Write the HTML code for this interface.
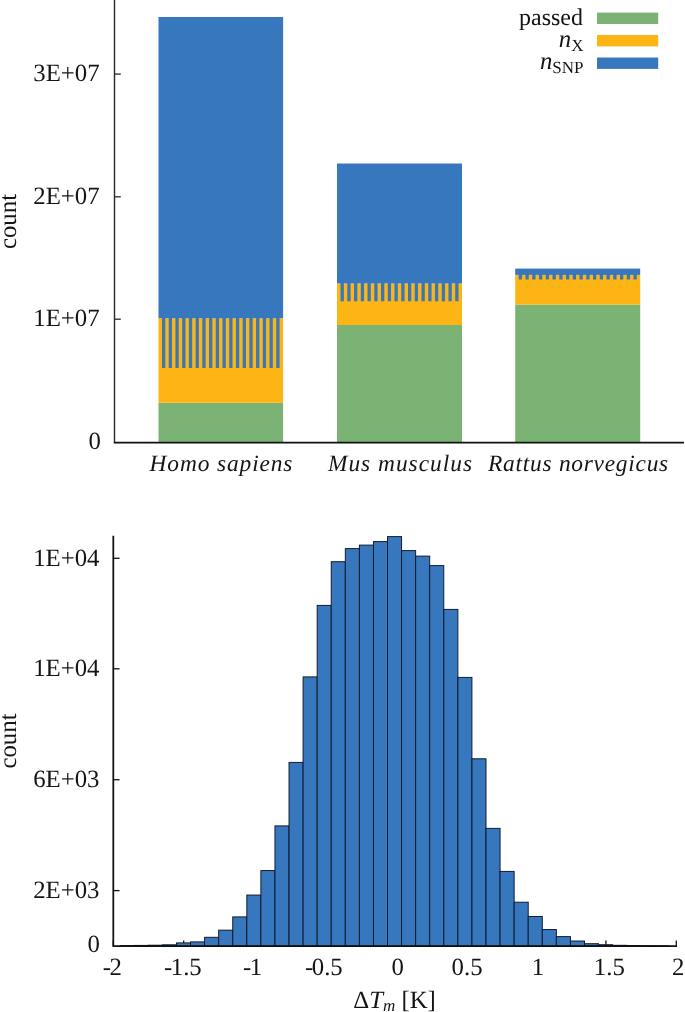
<!DOCTYPE html>
<html><head><meta charset="utf-8"><title>figure</title>
<style>
html,body{margin:0;padding:0;background:#fff;}
body{width:685px;height:1012px;overflow:hidden;}
svg{display:block;}
text{font-family:"Liberation Serif","Times New Roman",Times,serif;fill:#161314;text-rendering:geometricPrecision;}
.t{font-size:24.8px;}
.s{font-size:24px;}
.i{font-style:italic;}
</style></head><body>
<svg width="685" height="1012" viewBox="0 0 685 1012">
<rect width="685" height="1012" fill="#fff"/>

<g id="bars">
<rect x="158.5" y="402.8" width="124.6" height="39.90" fill="#7AB373"/>
<rect x="158.5" y="318.2" width="124.6" height="84.60" fill="#FDB515"/>
<rect x="158.5" y="17.0" width="124.6" height="301.20" fill="#3777BE"/>
<path d="M162.00 316.70h3.3V367.9h-3.3zM168.72 316.70h3.3V367.9h-3.3zM175.44 316.70h3.3V367.9h-3.3zM182.16 316.70h3.3V367.9h-3.3zM188.88 316.70h3.3V367.9h-3.3zM195.60 316.70h3.3V367.9h-3.3zM202.32 316.70h3.3V367.9h-3.3zM209.04 316.70h3.3V367.9h-3.3zM215.76 316.70h3.3V367.9h-3.3zM222.48 316.70h3.3V367.9h-3.3zM229.20 316.70h3.3V367.9h-3.3zM235.92 316.70h3.3V367.9h-3.3zM242.64 316.70h3.3V367.9h-3.3zM249.36 316.70h3.3V367.9h-3.3zM256.08 316.70h3.3V367.9h-3.3zM262.80 316.70h3.3V367.9h-3.3zM269.52 316.70h3.3V367.9h-3.3zM276.24 316.70h3.3V367.9h-3.3z" fill="#3777BE"/>
<rect x="337.0" y="325.0" width="125.0" height="117.70" fill="#7AB373"/>
<rect x="337.0" y="283.4" width="125.0" height="41.60" fill="#FDB515"/>
<rect x="337.0" y="163.5" width="125.0" height="119.90" fill="#3777BE"/>
<path d="M340.55 281.90h3.3V301.2h-3.3zM347.30 281.90h3.3V301.2h-3.3zM354.04 281.90h3.3V301.2h-3.3zM360.79 281.90h3.3V301.2h-3.3zM367.53 281.90h3.3V301.2h-3.3zM374.28 281.90h3.3V301.2h-3.3zM381.02 281.90h3.3V301.2h-3.3zM387.76 281.90h3.3V301.2h-3.3zM394.51 281.90h3.3V301.2h-3.3zM401.25 281.90h3.3V301.2h-3.3zM408.00 281.90h3.3V301.2h-3.3zM414.75 281.90h3.3V301.2h-3.3zM421.49 281.90h3.3V301.2h-3.3zM428.24 281.90h3.3V301.2h-3.3zM434.98 281.90h3.3V301.2h-3.3zM441.73 281.90h3.3V301.2h-3.3zM448.47 281.90h3.3V301.2h-3.3zM455.22 281.90h3.3V301.2h-3.3z" fill="#3777BE"/>
<rect x="515.2" y="304.6" width="125.0" height="138.10" fill="#7AB373"/>
<rect x="515.2" y="274.9" width="125.0" height="29.70" fill="#FDB515"/>
<rect x="515.2" y="268.6" width="125.0" height="6.30" fill="#3777BE"/>
<path d="M518.75 273.40h3.3V279.4h-3.3zM525.50 273.40h3.3V279.4h-3.3zM532.25 273.40h3.3V279.4h-3.3zM539.00 273.40h3.3V279.4h-3.3zM545.75 273.40h3.3V279.4h-3.3zM552.50 273.40h3.3V279.4h-3.3zM559.25 273.40h3.3V279.4h-3.3zM566.00 273.40h3.3V279.4h-3.3zM572.75 273.40h3.3V279.4h-3.3zM579.50 273.40h3.3V279.4h-3.3zM586.25 273.40h3.3V279.4h-3.3zM593.00 273.40h3.3V279.4h-3.3zM599.75 273.40h3.3V279.4h-3.3zM606.50 273.40h3.3V279.4h-3.3zM613.25 273.40h3.3V279.4h-3.3zM620.00 273.40h3.3V279.4h-3.3zM626.75 273.40h3.3V279.4h-3.3zM633.50 273.40h3.3V279.4h-3.3z" fill="#3777BE"/>
</g>
<path d="M114.5 0V442.7" fill="none" stroke="#2b2728" stroke-width="1.4"/>
<path d="M113.8 442.7H684" fill="none" stroke="#111111" stroke-width="1.7"/>
<path d="M114.5 74.1h6.3" stroke="#2b2728" stroke-width="1.3"/>
<text class="t" x="99.6" y="80.9" text-anchor="end">3E+07</text>
<path d="M114.5 196.8h6.3" stroke="#2b2728" stroke-width="1.3"/>
<text class="t" x="99.6" y="203.8" text-anchor="end">2E+07</text>
<path d="M114.5 319.2h6.3" stroke="#2b2728" stroke-width="1.3"/>
<text class="t" x="99.6" y="326.0" text-anchor="end">1E+07</text>
<text class="t" x="101" y="449" text-anchor="end">0</text>
<text class="t" transform="translate(15.5 221.5) rotate(-90)" text-anchor="middle">count</text>
<text class="i" font-size="23.4" x="149.6" y="470.8" letter-spacing="0.88">Homo sapiens</text>
<text class="i" font-size="23.4" x="327.9" y="470.8" letter-spacing="1.0">Mus musculus</text>
<text class="i" font-size="23.4" x="488.1" y="470.8" letter-spacing="0.74">Rattus norvegicus</text>
<text class="s" x="583" y="25" text-anchor="end">passed</text>
<text class="t" x="583.5" y="47" text-anchor="end"><tspan class="i">n</tspan><tspan font-size="17" dy="4">X</tspan></text>
<text class="t" x="583.5" y="69" text-anchor="end"><tspan class="i">n</tspan><tspan font-size="17" dy="4">SNP</tspan></text>
<rect x="597" y="12.6" width="61.2" height="11.4" fill="#7AB373"/>
<rect x="597" y="35" width="61.2" height="11.4" fill="#FDB515"/>
<rect x="597" y="57.5" width="61.2" height="11.4" fill="#3777BE"/>
<path d="M113.30 946.0v-5.5" stroke="#111111" stroke-width="1.3"/>
<path d="M183.68 946.0v-5.5" stroke="#111111" stroke-width="1.3"/>
<path d="M254.05 946.0v-5.5" stroke="#111111" stroke-width="1.3"/>
<path d="M324.43 946.0v-5.5" stroke="#111111" stroke-width="1.3"/>
<path d="M394.80 946.0v-5.5" stroke="#111111" stroke-width="1.3"/>
<path d="M465.18 946.0v-5.5" stroke="#111111" stroke-width="1.3"/>
<path d="M535.55 946.0v-5.5" stroke="#111111" stroke-width="1.3"/>
<path d="M605.92 946.0v-5.5" stroke="#111111" stroke-width="1.3"/>
<path d="M676.30 946.0v-5.5" stroke="#111111" stroke-width="1.3"/>
<g id="hist">
<rect x="120.19" y="945.6" width="14.07" height="0.40" fill="#3777BE" stroke="#0e1626" stroke-width="0.95"/>
<rect x="134.26" y="945.4" width="14.07" height="0.60" fill="#3777BE" stroke="#0e1626" stroke-width="0.95"/>
<rect x="148.33" y="945.2" width="14.07" height="0.80" fill="#3777BE" stroke="#0e1626" stroke-width="0.95"/>
<rect x="162.40" y="944.8" width="14.07" height="1.20" fill="#3777BE" stroke="#0e1626" stroke-width="0.95"/>
<rect x="176.47" y="942.9" width="14.07" height="3.10" fill="#3777BE" stroke="#0e1626" stroke-width="0.95"/>
<rect x="190.53" y="941.9" width="14.07" height="4.10" fill="#3777BE" stroke="#0e1626" stroke-width="0.95"/>
<rect x="204.61" y="937.3" width="14.07" height="8.70" fill="#3777BE" stroke="#0e1626" stroke-width="0.95"/>
<rect x="218.68" y="930.15" width="14.07" height="15.85" fill="#3777BE" stroke="#0e1626" stroke-width="0.95"/>
<rect x="232.75" y="916.9" width="14.07" height="29.10" fill="#3777BE" stroke="#0e1626" stroke-width="0.95"/>
<rect x="246.82" y="895.05" width="14.07" height="50.95" fill="#3777BE" stroke="#0e1626" stroke-width="0.95"/>
<rect x="260.88" y="870.55" width="14.07" height="75.45" fill="#3777BE" stroke="#0e1626" stroke-width="0.95"/>
<rect x="274.95" y="825.9" width="14.07" height="120.10" fill="#3777BE" stroke="#0e1626" stroke-width="0.95"/>
<rect x="289.02" y="762.4" width="14.07" height="183.60" fill="#3777BE" stroke="#0e1626" stroke-width="0.95"/>
<rect x="303.09" y="676.9" width="14.07" height="269.10" fill="#3777BE" stroke="#0e1626" stroke-width="0.95"/>
<rect x="317.17" y="605.4" width="14.07" height="340.60" fill="#3777BE" stroke="#0e1626" stroke-width="0.95"/>
<rect x="331.23" y="561.7" width="14.07" height="384.30" fill="#3777BE" stroke="#0e1626" stroke-width="0.95"/>
<rect x="345.31" y="548.6" width="14.07" height="397.40" fill="#3777BE" stroke="#0e1626" stroke-width="0.95"/>
<rect x="359.38" y="545.1" width="14.07" height="400.90" fill="#3777BE" stroke="#0e1626" stroke-width="0.95"/>
<rect x="373.44" y="541.6" width="14.07" height="404.40" fill="#3777BE" stroke="#0e1626" stroke-width="0.95"/>
<rect x="387.51" y="536.6" width="14.07" height="409.40" fill="#3777BE" stroke="#0e1626" stroke-width="0.95"/>
<rect x="401.58" y="550.6" width="14.07" height="395.40" fill="#3777BE" stroke="#0e1626" stroke-width="0.95"/>
<rect x="415.65" y="556.1" width="14.07" height="389.90" fill="#3777BE" stroke="#0e1626" stroke-width="0.95"/>
<rect x="429.72" y="565.6" width="14.07" height="380.40" fill="#3777BE" stroke="#0e1626" stroke-width="0.95"/>
<rect x="443.80" y="609.4" width="14.07" height="336.60" fill="#3777BE" stroke="#0e1626" stroke-width="0.95"/>
<rect x="457.86" y="677.4" width="14.07" height="268.60" fill="#3777BE" stroke="#0e1626" stroke-width="0.95"/>
<rect x="471.94" y="758.8" width="14.07" height="187.20" fill="#3777BE" stroke="#0e1626" stroke-width="0.95"/>
<rect x="486.00" y="828.35" width="14.07" height="117.65" fill="#3777BE" stroke="#0e1626" stroke-width="0.95"/>
<rect x="500.07" y="871.4" width="14.07" height="74.60" fill="#3777BE" stroke="#0e1626" stroke-width="0.95"/>
<rect x="514.15" y="902.2" width="14.07" height="43.80" fill="#3777BE" stroke="#0e1626" stroke-width="0.95"/>
<rect x="528.22" y="916.5" width="14.07" height="29.50" fill="#3777BE" stroke="#0e1626" stroke-width="0.95"/>
<rect x="542.29" y="929.55" width="14.07" height="16.45" fill="#3777BE" stroke="#0e1626" stroke-width="0.95"/>
<rect x="556.36" y="936.6" width="14.07" height="9.40" fill="#3777BE" stroke="#0e1626" stroke-width="0.95"/>
<rect x="570.43" y="941.0" width="14.07" height="5.00" fill="#3777BE" stroke="#0e1626" stroke-width="0.95"/>
<rect x="584.50" y="943.7" width="14.07" height="2.30" fill="#3777BE" stroke="#0e1626" stroke-width="0.95"/>
<rect x="598.57" y="944.7" width="14.07" height="1.30" fill="#3777BE" stroke="#0e1626" stroke-width="0.95"/>
<rect x="612.64" y="945.3" width="14.07" height="0.70" fill="#3777BE" stroke="#0e1626" stroke-width="0.95"/>
<rect x="626.71" y="945.5" width="14.07" height="0.50" fill="#3777BE" stroke="#0e1626" stroke-width="0.95"/>
<rect x="640.77" y="945.7" width="14.07" height="0.30" fill="#3777BE" stroke="#0e1626" stroke-width="0.95"/>
<rect x="654.85" y="945.8" width="14.07" height="0.20" fill="#3777BE" stroke="#0e1626" stroke-width="0.95"/>
</g>
<path d="M113.3 535.8V946.0H677" fill="none" stroke="#111111" stroke-width="1.75"/>
<path d="M113.3 558.3h6.3" stroke="#111111" stroke-width="1.3"/>
<text class="t" x="99.5" y="565.5" text-anchor="end">1E+04</text>
<path d="M113.3 668.8h6.3" stroke="#111111" stroke-width="1.3"/>
<text class="t" x="99.5" y="676.0" text-anchor="end">1E+04</text>
<path d="M113.3 779.7h6.3" stroke="#111111" stroke-width="1.3"/>
<text class="t" x="99.5" y="786.9" text-anchor="end">6E+03</text>
<path d="M113.3 890.6h6.3" stroke="#111111" stroke-width="1.3"/>
<text class="t" x="99.5" y="897.8" text-anchor="end">2E+03</text>
<text class="t" x="100" y="952" text-anchor="end">0</text>
<text class="t" x="102.8" y="974.6">-<tspan dx="-1.5">2</tspan></text>
<text class="t" x="164.0" y="974.6">-<tspan dx="-1.5">1.5</tspan></text>
<text class="t" x="243.0" y="974.6">-<tspan dx="-1.5">1</tspan></text>
<text class="t" x="305.0" y="974.6">-<tspan dx="-1.5">0.5</tspan></text>
<text class="t" x="391.4" y="974.6">0</text>
<text class="t" x="451.6" y="974.6">0.5</text>
<text class="t" x="531.8" y="974.6">1</text>
<text class="t" x="593.8" y="974.6">1.5</text>
<text class="t" x="672.0" y="974.6">2</text>
<text class="t" transform="translate(15.5 741) rotate(-90)" text-anchor="middle">count</text>
<text class="t" x="394.5" y="1007.5" text-anchor="middle">Δ<tspan class="i">T</tspan><tspan class="i" font-size="17" dy="3.5">m</tspan><tspan dy="-3.5"> [K]</tspan></text>
</svg></body></html>
